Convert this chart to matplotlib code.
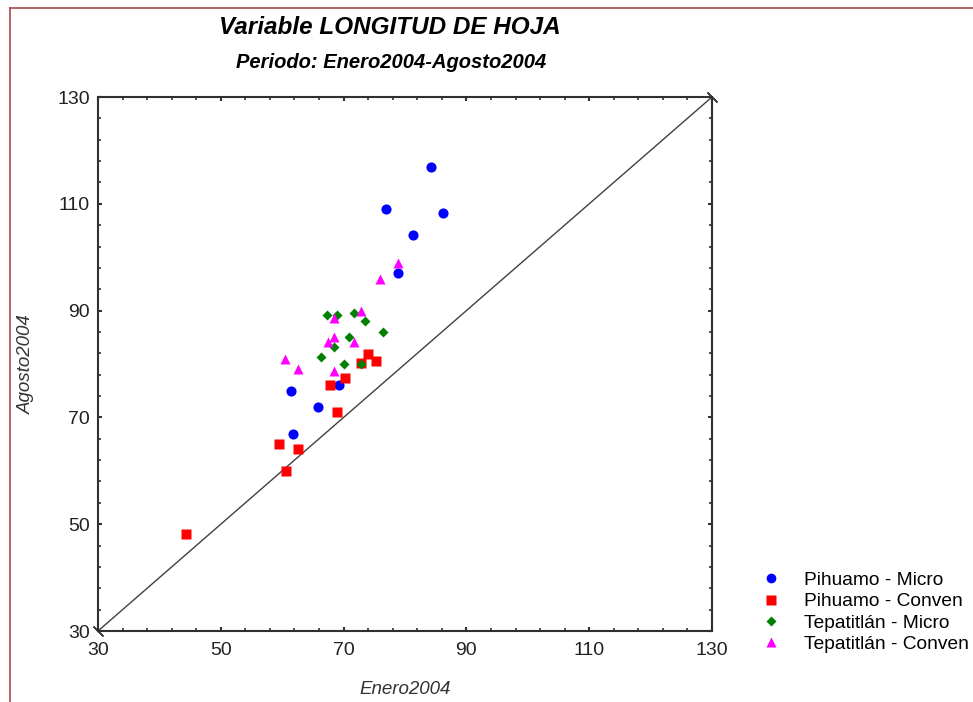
import numpy as np
import matplotlib
matplotlib.use('Agg')
import matplotlib.pyplot as plt
from matplotlib.lines import Line2D

plt.rcParams['font.family'] = ['Liberation Sans', 'DejaVu Sans']

# datos (Enero2004, Agosto2004)
pih_micro_x = [84.3, 76.9, 86.2, 81.3, 78.8, 61.4, 65.9, 61.8, 69.3]
pih_micro_y = [116.9, 109.1, 108.2, 104.1, 97.0, 75.0, 72.0, 66.9, 76.0]

pih_conv_x = [67.8, 70.3, 73.9, 75.3, 72.8, 68.9, 59.4, 62.5, 60.7, 44.4]
pih_conv_y = [76.0, 77.4, 81.9, 80.6, 80.1, 71.0, 65.1, 64.1, 60.0, 48.1]

tep_micro_x = [67.3, 69.0, 71.7, 73.5, 76.4, 70.9, 68.5, 66.4, 70.0, 72.8]
tep_micro_y = [89.2, 89.2, 89.6, 88.1, 85.9, 85.1, 83.1, 81.4, 80.0, 80.0]

tep_conv_x = [78.8, 75.9, 72.8, 68.4, 68.5, 67.5, 71.7, 60.4, 62.5, 68.4]
tep_conv_y = [99.0, 96.0, 90.0, 88.6, 85.0, 84.1, 84.1, 80.9, 79.0, 78.6]

lims = [30, 130]
ticks = [30, 50, 70, 90, 110, 130]

fig = plt.figure(figsize=(9.73, 7.02), dpi=100)
ax = fig.add_axes([98/973, 71/702, 614/973, 534/702])

# linea 1:1
ax.plot(lims, lims, color='#404040', lw=1, marker=(2, 2, 45), markersize=10,
        markeredgewidth=1, clip_on=False, zorder=2)

ax.plot(pih_micro_x, pih_micro_y, 'o', color='#0000ff', ms=7.3, mec='none',
        label='Pihuamo - Micro', zorder=3)
ax.plot(pih_conv_x, pih_conv_y, 's', color='#ff0000', ms=7.3, mec='none',
        label='Pihuamo - Conven', zorder=3)
ax.plot(tep_micro_x, tep_micro_y, 'D', color='#008000', ms=5.5, mec='none',
        label='Tepatitlán - Micro', zorder=4)
ax.plot(tep_conv_x, tep_conv_y, '^', color='#ff00ff', ms=7.8, mec='none',
        label='Tepatitlán - Conven', zorder=4)

ax.set_xlim(lims)
ax.set_ylim(lims)
ax.set_xticks(ticks)
ax.set_yticks(ticks)
ax.set_xticks(np.arange(30, 131, 4), minor=True)
ax.set_yticks(np.arange(30, 131, 4), minor=True)
ax.tick_params(which='both', direction='in', top=True, right=True,
               color='#303030')
ax.tick_params(which='major', length=3, width=1.5, labelsize=14,
               labelcolor='#222222', pad=6)
ax.tick_params(which='minor', length=2, width=1.2)
ax.tick_params(axis='x', which='major', pad=8)
for s in ax.spines.values():
    s.set_linewidth(1.5)
    s.set_color('#303030')

ax.set_xlabel('Enero2004', fontsize=13.5, style='italic', color='#333333', labelpad=16)
ax.set_ylabel('Agosto2004', fontsize=13.5, style='italic', color='#333333', labelpad=16)

fig.text(390/973, 1 - 28/702, 'Variable LONGITUD DE HOJA', ha='center', va='center',
         fontsize=17.5, fontweight='bold', style='italic')
fig.text(391/973, 1 - 63/702, 'Periodo: Enero2004-Agosto2004', ha='center', va='center',
         fontsize=14.5, fontweight='bold', style='italic')

leg = fig.legend(loc='upper left', bbox_to_anchor=(752/973, 1 - 564/702), frameon=False,
                 fontsize=13.8, handletextpad=1.1, labelspacing=0.2,
                 borderaxespad=0, handlelength=1.2)
for h, ms in zip(leg.legend_handles, [7, 7, 5.5, 7.5]):
    h.set_markersize(ms)

# borde de la figura
fig.add_artist(Line2D([10/973, 10/973], [0, 1 - 8/702], transform=fig.transFigure,
                      color='#a84848', lw=1.2))
fig.add_artist(Line2D([10/973, 1], [1 - 8/702, 1 - 8/702], transform=fig.transFigure,
                      color='#a84848', lw=1.2))

fig.savefig('out.png', dpi=100)
